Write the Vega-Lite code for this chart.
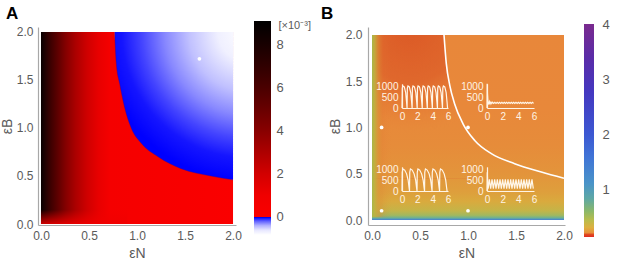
{
  "$schema": "https://vega.github.io/schema/vega-lite/v6.json",
  "background": "white",
  "padding": {"left": 0, "top": 4, "right": 0, "bottom": 0},
  "bounds": "flush",
  "spacing": 132,
  "config": {
    "view": {"stroke": null},
    "font": "Liberation Sans",
    "axis": {"grid": false, "ticks": false, "domainColor": "#a8a8a8", "domainWidth": 1.2, "labelColor": "#5a5a5a", "labelFontSize": 12, "labelFont": "Liberation Sans", "titleFont": "Liberation Sans", "titleColor": "#5a5a5a", "titleFontSize": 14, "titleFontWeight": "normal", "labelFlush": false, "labelOverlap": false}
  },
  "hconcat": [
    {
      "width": 198,
      "height": 198,
      "title": {"text": "A", "anchor": "start", "frame": "group", "dx": -32, "offset": -4, "fontSize": 17, "fontWeight": "bold", "color": "#000000", "font": "Liberation Sans"},
      "resolve": {"scale": {"x": "independent", "y": "independent"}, "axis": {"x": "independent", "y": "independent"}},
      "layer": [
        {
          "encoding": {
            "x": {"field": "x", "type": "quantitative", "scale": {"domain": [-0.031, 2.031], "nice": false, "zero": false}, "axis": {"orient": "bottom", "values": [0, 0.5, 1, 1.5, 2], "format": ".1f", "labelPadding": 5, "title": "εN", "titlePadding": 5}},
            "y": {"field": "y", "type": "quantitative", "scale": {"domain": [-0.0104, 2.052], "nice": false, "zero": false}, "axis": {"orient": "left", "values": [0, 0.5, 1, 1.5, 2], "format": ".1f", "labelPadding": 5, "title": "εB", "titlePadding": 2}}
          },
          "layer": [
            {
              "data": {"values": [{"x": 0, "y": 0, "x2": 2, "y2": 2}]},
              "mark": {"type": "rect", "fill": {"gradient": "linear", "x1": 0, "y1": 0, "x2": 1, "y2": 0, "stops": [
                {"offset": 0, "color": "#080000"}, {"offset": 0.02, "color": "#1e0000"}, {"offset": 0.05, "color": "#3c0000"}, {"offset": 0.09, "color": "#600000"}, {"offset": 0.13, "color": "#850000"}, {"offset": 0.18, "color": "#ab0000"}, {"offset": 0.24, "color": "#cf0000"}, {"offset": 0.3, "color": "#e80000"}, {"offset": 0.36, "color": "#f50000"}, {"offset": 1, "color": "#fa0000"}]}},
              "encoding": {"x2": {"field": "x2"}, "y2": {"field": "y2"}}
            },
            {
              "data": {"values": [{"x": 0, "y": 0, "x2": 0.9, "y2": 0.15}]},
              "mark": {"type": "rect", "fill": {"gradient": "linear", "x1": 0, "y1": 1, "x2": 0, "y2": 0, "stops": [
                {"offset": 0, "color": "rgba(240,0,0,0.85)"}, {"offset": 1, "color": "rgba(240,0,0,0)"}]}},
              "encoding": {"x2": {"field": "x2"}, "y2": {"field": "y2"}}
            },
            {
              "data": {"values": [
                {"x": 0.767, "y": 2.0}, {"x": 0.785, "y": 1.67}, {"x": 0.82, "y": 1.46}, {"x": 0.87, "y": 1.22}, {"x": 0.94, "y": 1.0}, {"x": 1.045, "y": 0.84}, {"x": 1.22, "y": 0.7}, {"x": 1.46, "y": 0.576}, {"x": 1.77, "y": 0.5}, {"x": 2.0, "y": 0.46}]},
              "mark": {"type": "area", "interpolate": "monotone", "fill": {"gradient": "radial", "x1": 1, "y1": 0, "r1": 0, "x2": 1, "y2": 0, "r2": 1, "stops": [
                {"offset": 0, "color": "#ffffff"}, {"offset": 0.2, "color": "#f0f0ff"}, {"offset": 0.4, "color": "#c0c0ff"}, {"offset": 0.56, "color": "#8888ff"}, {"offset": 0.72, "color": "#4444ff"}, {"offset": 0.85, "color": "#1515ff"}, {"offset": 1, "color": "#0000ff"}]}},
              "encoding": {"y2": {"datum": 2}}
            },
            {
              "data": {"values": [
                {"x": 0.767, "y": 2.0}, {"x": 0.785, "y": 1.67}, {"x": 0.82, "y": 1.46}, {"x": 0.87, "y": 1.22}, {"x": 0.94, "y": 1.0}, {"x": 1.045, "y": 0.84}, {"x": 1.22, "y": 0.7}, {"x": 1.46, "y": 0.576}, {"x": 1.77, "y": 0.5}, {"x": 2.0, "y": 0.46}]},
              "mark": {"type": "line", "interpolate": "monotone", "stroke": "#3a0090", "strokeWidth": 0.8, "opacity": 0.5},
              "encoding": {}
            },
            {
              "data": {"values": [{"x": 1.65, "y": 1.72}]},
              "mark": {"type": "point", "filled": true, "color": "#ffffff", "size": 14, "opacity": 1},
              "encoding": {}
            }
          ]
        },
        {
          "data": {"values": [{"v0": -0.83, "v1": 9.07}]},
          "mark": {"type": "rect", "fill": {"gradient": "linear", "x1": 0, "y1": 1, "x2": 0, "y2": 0, "stops": [
            {"offset": 0, "color": "#ffffff"}, {"offset": 0.023, "color": "#e6e6ff"}, {"offset": 0.044, "color": "#b0b0ff"}, {"offset": 0.064, "color": "#6060ff"}, {"offset": 0.079, "color": "#1010ff"}, {"offset": 0.0825, "color": "#0000e0"}, {"offset": 0.0838, "color": "#20007a"}, {"offset": 0.085, "color": "#fa0000"}, {"offset": 0.185, "color": "#f00000"}, {"offset": 0.286, "color": "#d20000"}, {"offset": 0.387, "color": "#ad0000"}, {"offset": 0.488, "color": "#880000"}, {"offset": 0.589, "color": "#680000"}, {"offset": 0.69, "color": "#4a0000"}, {"offset": 0.79, "color": "#300000"}, {"offset": 0.892, "color": "#180000"}, {"offset": 1, "color": "#000000"}]}},
          "encoding": {
            "x": {"datum": 0, "type": "quantitative", "scale": {"domain": [0, 1], "range": [216, 233]}, "axis": null},
            "x2": {"datum": 1},
            "y": {"field": "v0", "type": "quantitative", "scale": {"domain": [-0.83, 9.07], "range": [207.9, -5.9], "nice": false, "zero": false}, "axis": {"orient": "right", "offset": 35, "values": [0, 2, 4, 6, 8], "domain": false, "labelPadding": 5, "labelFontSize": 13, "title": "[×10⁻³]", "titleAngle": 0, "titleAlign": "left", "titleBaseline": "middle", "titleX": 7, "titleY": -2, "titleFontSize": 11}},
            "y2": {"field": "v1"}
          }
        }
      ]
    },
    {
      "width": 197,
      "height": 198,
      "title": {"text": "B", "anchor": "start", "frame": "group", "dx": -47, "offset": -4, "fontSize": 17, "fontWeight": "bold", "color": "#000000", "font": "Liberation Sans"},
      "resolve": {"scale": {"x": "independent", "y": "independent"}, "axis": {"x": "independent", "y": "independent"}},
      "layer": [
        {
          "encoding": {
            "x": {"field": "x", "type": "quantitative", "scale": {"domain": [-0.0417, 2.0104], "nice": false, "zero": false}, "axis": {"orient": "bottom", "values": [0, 0.5, 1, 1.5, 2], "format": ".1f", "labelPadding": 5, "title": "εN", "titlePadding": 5}},
            "y": {"field": "y", "type": "quantitative", "scale": {"domain": [-0.054, 2.086], "nice": false, "zero": false}, "axis": {"orient": "left", "values": [0, 0.5, 1, 1.5, 2], "format": ".1f", "labelPadding": 6, "title": "εB", "titlePadding": 3}}
          },
          "layer": [
            {
              "data": {"values": [{"x": 0, "y": 0, "x2": 2, "y2": 2}]},
              "mark": {"type": "rect", "fill": {"gradient": "linear", "x1": 0, "y1": 1, "x2": 0, "y2": 0, "stops": [
                {"offset": 0, "color": "#4a78d0"}, {"offset": 0.005, "color": "#5098c0"}, {"offset": 0.012, "color": "#70b090"}, {"offset": 0.025, "color": "#a0b860"}, {"offset": 0.05, "color": "#c4b448"}, {"offset": 0.1, "color": "#d9aa3e"}, {"offset": 0.15, "color": "#de9f3c"}, {"offset": 0.25, "color": "#e3943b"}, {"offset": 0.4, "color": "#e68c3a"}, {"offset": 0.6, "color": "#e8883a"}, {"offset": 1, "color": "#e8873a"}]}},
              "encoding": {"x2": {"field": "x2"}, "y2": {"field": "y2"}}
            },
            {
              "data": {"values": [
                {"x": 0.75, "y": 2.0}, {"x": 0.774, "y": 1.69}, {"x": 0.81, "y": 1.456}, {"x": 0.86, "y": 1.257}, {"x": 0.948, "y": 1.04}, {"x": 1.07, "y": 0.86}, {"x": 1.243, "y": 0.717}, {"x": 1.486, "y": 0.609}, {"x": 1.764, "y": 0.519}, {"x": 2.0, "y": 0.452}]},
              "mark": {"type": "area", "orient": "horizontal", "interpolate": "monotone", "fill": {"gradient": "radial", "x1": 0.2, "y1": 0.097, "r1": 0, "x2": 0.2, "y2": 0.097, "r2": 0.55, "stops": [
                {"offset": 0, "color": "rgba(220,90,38,1)"}, {"offset": 0.5, "color": "rgba(222,98,42,0.85)"}, {"offset": 0.8, "color": "rgba(228,118,50,0.35)"}, {"offset": 1, "color": "rgba(232,136,58,0)"}]}},
              "encoding": {"x2": {"datum": 0}}
            },
            {
              "data": {"values": [{"x": 0, "y": 0.03, "x2": 0.2, "y2": 2}]},
              "mark": {"type": "rect", "fill": {"gradient": "linear", "x1": 0, "y1": 0, "x2": 1, "y2": 0, "stops": [
                {"offset": 0, "color": "rgba(168,184,72,1)"}, {"offset": 0.15, "color": "rgba(190,178,64,0.85)"}, {"offset": 0.35, "color": "rgba(215,150,55,0.5)"}, {"offset": 0.6, "color": "rgba(225,120,50,0.15)"}, {"offset": 1, "color": "rgba(230,130,55,0)"}]}},
              "encoding": {"x2": {"field": "x2"}, "y2": {"field": "y2"}}
            },
            {
              "data": {"values": [
                {"x": 0.75, "y": 2.0}, {"x": 0.774, "y": 1.69}, {"x": 0.81, "y": 1.456}, {"x": 0.86, "y": 1.257}, {"x": 0.948, "y": 1.04}, {"x": 1.07, "y": 0.86}, {"x": 1.243, "y": 0.717}, {"x": 1.486, "y": 0.609}, {"x": 1.764, "y": 0.519}, {"x": 2.0, "y": 0.452}]},
              "mark": {"type": "line", "interpolate": "monotone", "stroke": "#ffffff", "strokeWidth": 1.6},
              "encoding": {}
            },
            {
              "data": {"values": [{"x": 0.1, "y": 1.0}, {"x": 1.0, "y": 1.0}, {"x": 0.1, "y": 0.1}, {"x": 1.0, "y": 0.1}]},
              "mark": {"type": "point", "filled": true, "color": "#ffffff", "size": 14, "opacity": 1},
              "encoding": {}
            }
          ]
        },
        {
          "data": {"values": [
            {"t": 0, "c": 0}, {"t": 0.04, "c": 900}, {"t": 0.12, "c": 1000}, {"t": 0.3, "c": 960}, {"t": 0.48, "c": 700}, {"t": 0.6, "c": 250},
            {"t": 0.66, "c": 0}, {"t": 0.7, "c": 900}, {"t": 0.78, "c": 1000}, {"t": 0.96, "c": 960}, {"t": 1.14, "c": 700}, {"t": 1.26, "c": 250},
            {"t": 1.32, "c": 0}, {"t": 1.36, "c": 900}, {"t": 1.44, "c": 1000}, {"t": 1.62, "c": 960}, {"t": 1.8, "c": 700}, {"t": 1.92, "c": 250},
            {"t": 1.98, "c": 0}, {"t": 2.02, "c": 900}, {"t": 2.1, "c": 1000}, {"t": 2.28, "c": 960}, {"t": 2.46, "c": 700}, {"t": 2.58, "c": 250},
            {"t": 2.64, "c": 0}, {"t": 2.68, "c": 900}, {"t": 2.76, "c": 1000}, {"t": 2.94, "c": 960}, {"t": 3.12, "c": 700}, {"t": 3.24, "c": 250},
            {"t": 3.3, "c": 0}, {"t": 3.34, "c": 900}, {"t": 3.42, "c": 1000}, {"t": 3.6, "c": 960}, {"t": 3.78, "c": 700}, {"t": 3.9, "c": 250},
            {"t": 3.96, "c": 0}, {"t": 4.0, "c": 900}, {"t": 4.08, "c": 1000}, {"t": 4.26, "c": 960}, {"t": 4.44, "c": 700}, {"t": 4.56, "c": 250},
            {"t": 4.62, "c": 0}, {"t": 4.66, "c": 900}, {"t": 4.74, "c": 1000}, {"t": 4.92, "c": 960}, {"t": 5.1, "c": 700}, {"t": 5.22, "c": 250},
            {"t": 5.28, "c": 0}, {"t": 5.32, "c": 900}, {"t": 5.4, "c": 1000}, {"t": 5.58, "c": 960}, {"t": 5.76, "c": 700}, {"t": 5.88, "c": 250}, {"t": 5.94, "c": 0}]},
          "mark": {"type": "line", "stroke": "#fff6e8", "strokeWidth": 1.2},
          "encoding": {
            "x": {"field": "t", "type": "quantitative", "scale": {"domain": [0, 6], "range": [34, 80], "nice": false, "zero": false}, "axis": {"orient": "bottom", "offset": -117, "values": [0, 2, 4, 6], "format": "d", "title": null, "domainColor": "#fff4e4", "labelColor": "#fff4e4", "labelFontSize": 10, "labelPadding": 3, "zindex": 1}},
            "y": {"field": "c", "type": "quantitative", "scale": {"domain": [0, 1100], "range": [81, 56.8], "nice": false, "zero": false}, "axis": {"orient": "left", "offset": -34, "values": [0, 500, 1000], "format": "d", "title": null, "domainColor": "#fff4e4", "labelColor": "#fff4e4", "labelFontSize": 10, "labelPadding": 4, "zindex": 1}}
          }
        },
        {
          "data": {"values": [
            {"t": 0, "c": 0}, {"t": 0.02, "c": 1100}, {"t": 0.06, "c": 650}, {"t": 0.12, "c": 300}, {"t": 0.2, "c": 160}, {"t": 0.3, "c": 290}, {"t": 0.4, "c": 190}, {"t": 0.5, "c": 270}, {"t": 0.6, "c": 205}, {"t": 0.7, "c": 260},
            {"t": 0.85, "c": 210}, {"t": 1.0, "c": 260}, {"t": 1.15, "c": 210}, {"t": 1.3, "c": 260}, {"t": 1.45, "c": 210}, {"t": 1.6, "c": 260}, {"t": 1.75, "c": 210}, {"t": 1.9, "c": 260}, {"t": 2.05, "c": 210}, {"t": 2.2, "c": 260}, {"t": 2.35, "c": 210}, {"t": 2.5, "c": 260}, {"t": 2.65, "c": 210}, {"t": 2.8, "c": 260}, {"t": 2.95, "c": 210}, {"t": 3.1, "c": 260}, {"t": 3.25, "c": 210}, {"t": 3.4, "c": 260}, {"t": 3.55, "c": 210}, {"t": 3.7, "c": 260}, {"t": 3.85, "c": 210}, {"t": 4.0, "c": 260}, {"t": 4.15, "c": 210}, {"t": 4.3, "c": 260}, {"t": 4.45, "c": 210}, {"t": 4.6, "c": 260}, {"t": 4.75, "c": 210}, {"t": 4.9, "c": 260}, {"t": 5.05, "c": 210}, {"t": 5.2, "c": 260}, {"t": 5.35, "c": 210}, {"t": 5.5, "c": 260}, {"t": 5.65, "c": 210}, {"t": 5.8, "c": 260}, {"t": 5.95, "c": 210}]},
          "mark": {"type": "line", "stroke": "#fff6e8", "strokeWidth": 1.2},
          "encoding": {
            "x": {"field": "t", "type": "quantitative", "scale": {"domain": [0, 6], "range": [119, 166], "nice": false, "zero": false}, "axis": {"orient": "bottom", "offset": -117, "values": [0, 2, 4, 6], "format": "d", "title": null, "domainColor": "#fff4e4", "labelColor": "#fff4e4", "labelFontSize": 10, "labelPadding": 3, "zindex": 1}},
            "y": {"field": "c", "type": "quantitative", "scale": {"domain": [0, 1100], "range": [81, 56.8], "nice": false, "zero": false}, "axis": {"orient": "left", "offset": -119, "values": [0, 500, 1000], "format": "d", "title": null, "domainColor": "#fff4e4", "labelColor": "#fff4e4", "labelFontSize": 10, "labelPadding": 4, "zindex": 1}}
          }
        },
        {
          "data": {"values": [
            {"t": 0, "c": 0}, {"t": 0.03, "c": 850}, {"t": 0.12, "c": 1000}, {"t": 0.35, "c": 950}, {"t": 0.6, "c": 780}, {"t": 0.8, "c": 500}, {"t": 0.92, "c": 150},
            {"t": 0.98, "c": 0}, {"t": 1.01, "c": 850}, {"t": 1.1, "c": 1000}, {"t": 1.33, "c": 950}, {"t": 1.58, "c": 780}, {"t": 1.78, "c": 500}, {"t": 1.9, "c": 150},
            {"t": 1.96, "c": 0}, {"t": 1.99, "c": 850}, {"t": 2.08, "c": 1000}, {"t": 2.31, "c": 950}, {"t": 2.56, "c": 780}, {"t": 2.76, "c": 500}, {"t": 2.88, "c": 150},
            {"t": 2.94, "c": 0}, {"t": 2.97, "c": 850}, {"t": 3.06, "c": 1000}, {"t": 3.29, "c": 950}, {"t": 3.54, "c": 780}, {"t": 3.74, "c": 500}, {"t": 3.86, "c": 150},
            {"t": 3.92, "c": 0}, {"t": 3.95, "c": 850}, {"t": 4.04, "c": 1000}, {"t": 4.27, "c": 950}, {"t": 4.52, "c": 780}, {"t": 4.72, "c": 500}, {"t": 4.84, "c": 150},
            {"t": 4.9, "c": 0}, {"t": 4.93, "c": 850}, {"t": 5.02, "c": 1000}, {"t": 5.25, "c": 950}, {"t": 5.5, "c": 780}, {"t": 5.7, "c": 500}, {"t": 5.82, "c": 150}, {"t": 5.88, "c": 0}]},
          "mark": {"type": "line", "stroke": "#fff6e8", "strokeWidth": 1.2},
          "encoding": {
            "x": {"field": "t", "type": "quantitative", "scale": {"domain": [0, 6], "range": [34, 80], "nice": false, "zero": false}, "axis": {"orient": "bottom", "offset": -34, "values": [0, 2, 4, 6], "format": "d", "title": null, "domainColor": "#fff4e4", "labelColor": "#fff4e4", "labelFontSize": 10, "labelPadding": 3, "zindex": 1}},
            "y": {"field": "c", "type": "quantitative", "scale": {"domain": [0, 1100], "range": [164, 139.8], "nice": false, "zero": false}, "axis": {"orient": "left", "offset": -34, "values": [0, 500, 1000], "format": "d", "title": null, "domainColor": "#fff4e4", "labelColor": "#fff4e4", "labelFontSize": 10, "labelPadding": 4, "zindex": 1}}
          }
        },
        {
          "data": {"values": [
            {"t": 0, "c": 0}, {"t": 0.03, "c": 850}, {"t": 0.1, "c": 300}, {"t": 0.15, "c": 110},
            {"t": 0.3, "c": 530}, {"t": 0.47, "c": 110}, {"t": 0.64, "c": 530}, {"t": 0.81, "c": 110}, {"t": 0.98, "c": 530}, {"t": 1.15, "c": 110}, {"t": 1.32, "c": 530}, {"t": 1.49, "c": 110}, {"t": 1.66, "c": 530}, {"t": 1.83, "c": 110}, {"t": 2.0, "c": 530}, {"t": 2.17, "c": 110}, {"t": 2.34, "c": 530}, {"t": 2.51, "c": 110}, {"t": 2.68, "c": 530}, {"t": 2.85, "c": 110}, {"t": 3.02, "c": 530}, {"t": 3.19, "c": 110}, {"t": 3.36, "c": 530}, {"t": 3.53, "c": 110}, {"t": 3.7, "c": 530}, {"t": 3.87, "c": 110}, {"t": 4.04, "c": 530}, {"t": 4.21, "c": 110}, {"t": 4.38, "c": 530}, {"t": 4.55, "c": 110}, {"t": 4.72, "c": 530}, {"t": 4.89, "c": 110}, {"t": 5.06, "c": 530}, {"t": 5.23, "c": 110}, {"t": 5.4, "c": 530}, {"t": 5.57, "c": 110}, {"t": 5.74, "c": 530}, {"t": 5.91, "c": 110}]},
          "mark": {"type": "line", "stroke": "#fff6e8", "strokeWidth": 1.2},
          "encoding": {
            "x": {"field": "t", "type": "quantitative", "scale": {"domain": [0, 6], "range": [119, 166], "nice": false, "zero": false}, "axis": {"orient": "bottom", "offset": -34, "values": [0, 2, 4, 6], "format": "d", "title": null, "domainColor": "#fff4e4", "labelColor": "#fff4e4", "labelFontSize": 10, "labelPadding": 3, "zindex": 1}},
            "y": {"field": "c", "type": "quantitative", "scale": {"domain": [0, 1100], "range": [164, 139.8], "nice": false, "zero": false}, "axis": {"orient": "left", "offset": -119, "values": [0, 500, 1000], "format": "d", "title": null, "domainColor": "#fff4e4", "labelColor": "#fff4e4", "labelFontSize": 10, "labelPadding": 4, "zindex": 1}}
          }
        },
        {
          "data": {"values": [{"v0": 0.145, "v1": 4.02}]},
          "mark": {"type": "rect", "fill": {"gradient": "linear", "x1": 0, "y1": 1, "x2": 0, "y2": 0, "stops": [
            {"offset": 0, "color": "#e02a20"}, {"offset": 0.012, "color": "#e04a20"}, {"offset": 0.02, "color": "#e8903a"}, {"offset": 0.045, "color": "#dcb040"}, {"offset": 0.08, "color": "#b8bc4c"}, {"offset": 0.12, "color": "#8cb868"}, {"offset": 0.18, "color": "#5ea8a4"}, {"offset": 0.25, "color": "#4a94c8"}, {"offset": 0.375, "color": "#4074d6"}, {"offset": 0.48, "color": "#3c58d2"}, {"offset": 0.68, "color": "#4438c0"}, {"offset": 0.84, "color": "#5a2ca8"}, {"offset": 1, "color": "#7a2a8e"}]}},
          "encoding": {
            "x": {"datum": 0, "type": "quantitative", "scale": {"domain": [0, 1], "range": [216, 226]}, "axis": null},
            "x2": {"datum": 1},
            "y": {"field": "v0", "type": "quantitative", "scale": {"domain": [0.145, 4.02], "range": [210.0, -3.1], "nice": false, "zero": false}, "axis": {"orient": "right", "offset": 29, "values": [1, 2, 3, 4], "domain": false, "labelPadding": 8, "labelFontSize": 13, "title": null}},
            "y2": {"field": "v1"}
          }
        }
      ]
    }
  ]
}
